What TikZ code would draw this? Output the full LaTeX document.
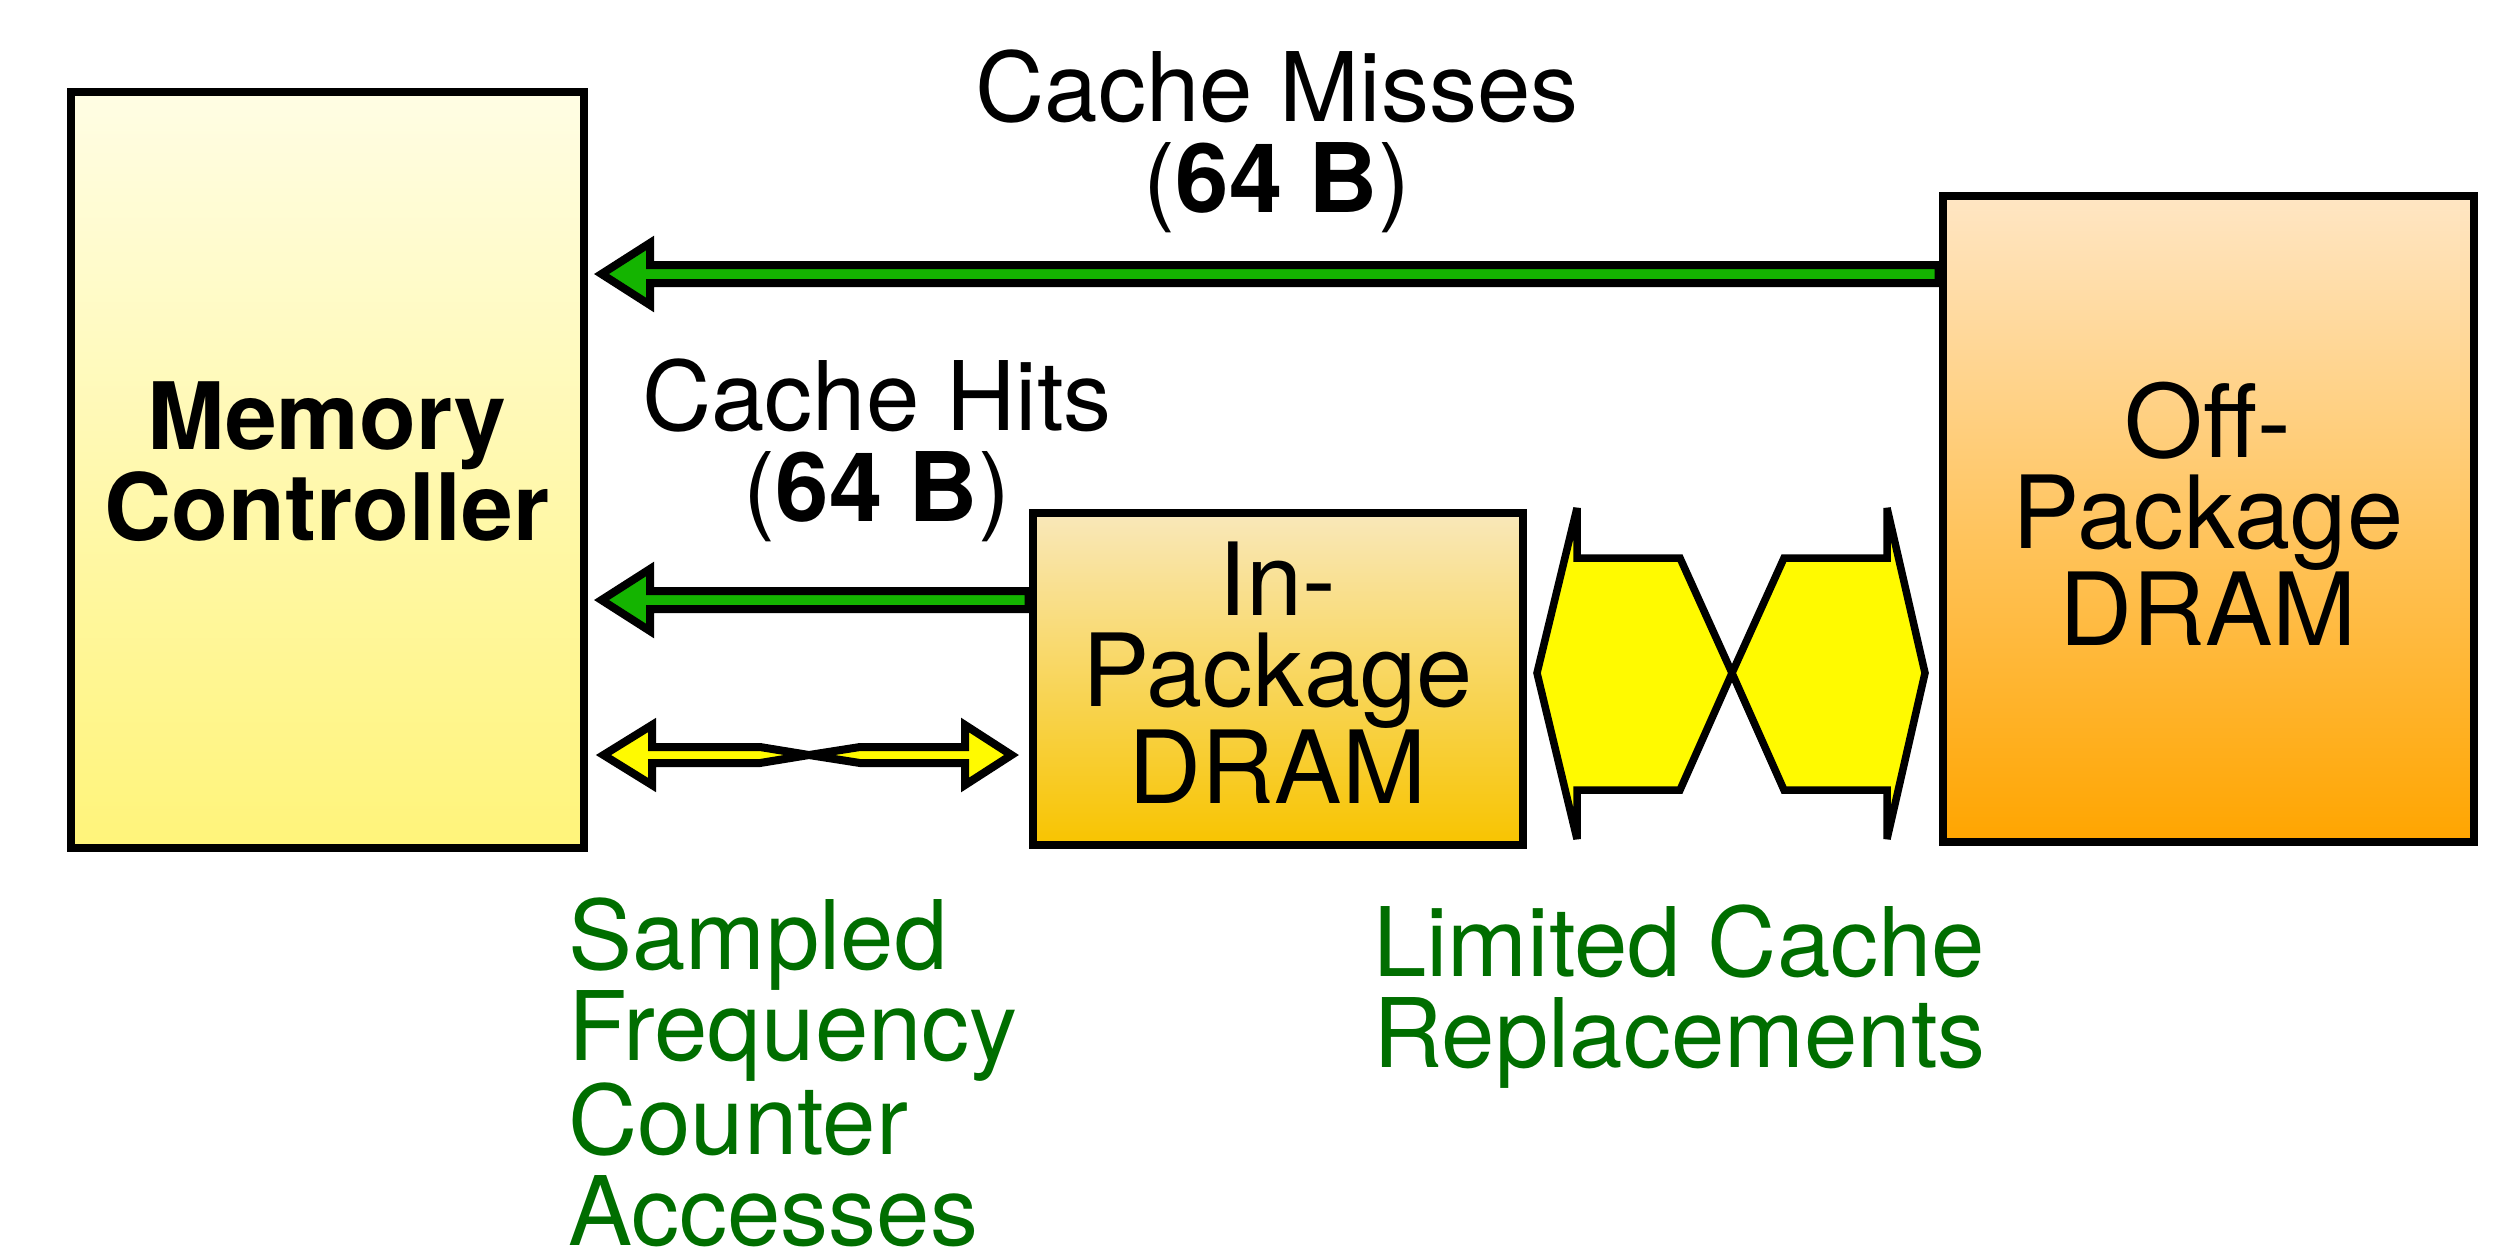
\documentclass[tikz,border=0pt]{standalone}
\usepackage{fontspec}
\setmainfont{TeX Gyre Heros}
\usetikzlibrary{calc}
\definecolor{mctop}{RGB}{255,253,228}
\definecolor{mcbot}{RGB}{255,244,122}
\definecolor{intop}{RGB}{249,232,186}
\definecolor{inbot}{RGB}{248,196,0}
\definecolor{offtop}{RGB}{255,230,196}
\definecolor{offbot}{RGB}{255,165,0}
\definecolor{agreen}{RGB}{20,180,0}
\definecolor{ayellow}{RGB}{255,250,0}
\definecolor{notegreen}{RGB}{0,110,0}
\begin{document}
\begin{tikzpicture}[x=1pt,y=-1pt,
  bigfont/.style={font=\fontsize{96}{91}\selectfont},
  boxfont/.style={font=\fontsize{101}{91}\selectfont},
  box/.style={draw=black, line width=8pt, inner sep=0pt, align=center, boxfont},
  arr/.style={draw=black, line width=8pt, line join=miter},
  lbl/.style={inner sep=0pt, align=center, bigfont},
  note/.style={inner sep=0pt, align=left, text=notegreen, bigfont}]
\useasboundingbox (0,0) rectangle (2508,1254);

% boxes
\node[box, minimum width=513pt, minimum height=756pt, top color=mctop, bottom color=mcbot,
      font=\fontsize{93}{91}\selectfont\bfseries, text depth=16pt] (mc) at (327,469.5) {Memory\\Controller};
\node[box, minimum width=531pt, minimum height=646pt, top color=offtop, bottom color=offbot, text depth=10pt] (off) at (2208,518.5) {Off-\\Package\\DRAM};
\node[box, minimum width=490pt, minimum height=332pt, top color=intop, bottom color=inbot, text depth=12pt] (in) at (1277.5,678.5) {In-\\Package\\DRAM};

% helper rows
\coordinate (missY) at (0,274);
\coordinate (hitY) at (0,600);
\coordinate (dblY) at (0,755);
\coordinate (bowY) at (0,673);

% cache misses arrow
\draw[arr, fill=agreen] ($(off.west|-missY)+(0,-9)$) -- (650,265) -- (650,243)
  -- ($(mc.east|-missY)+(14,0)$) -- (650,305) -- (650,283) -- ($(off.west|-missY)+(0,9)$) -- cycle;

% cache hits arrow
\draw[arr, fill=agreen] ($(in.west|-hitY)+(0,-9)$) -- (650,591) -- (650,569)
  -- ($(mc.east|-hitY)+(14,0)$) -- (650,631) -- (650,609) -- ($(in.west|-hitY)+(0,9)$) -- cycle;

% sampled double arrow
\draw[arr, fill=ayellow] ($(mc.east|-dblY)+(16,0)$) -- (652,725) -- (652,747) -- (760,747)
  -- (809,755) -- (760,763) -- (652,763) -- (652,785) -- cycle;
\draw[arr, fill=ayellow] ($(in.west|-dblY)+(-17,0)$) -- (965,725) -- (965,747) -- (860,747)
  -- (809,755) -- (860,763) -- (965,763) -- (965,785) -- cycle;

% limited replacements bow-tie
\draw[arr, line width=7.5pt, miter limit=4, fill=ayellow] ($(in.east|-bowY)+(10.5,0)$) -- (1577,508) -- (1577,558) -- (1680,558)
  -- (1732,673) -- (1680,790) -- (1577,790) -- (1577,839) -- cycle;
\draw[arr, line width=7.5pt, miter limit=4, fill=ayellow] ($(off.west|-bowY)+(-13.5,0)$) -- (1887,508) -- (1887,558) -- (1784,558)
  -- (1732,673) -- (1784,790) -- (1887,790) -- (1887,839) -- cycle;

% labels
\node[lbl, anchor=north] (misslbl) at (1277,50) {Cache Misses\\(\textbf{64 B})};
\node[lbl, anchor=north] (hitlbl) at (877,359) {Cache Hits\\(\textbf{64 B})};
\node[note, anchor=north west, text depth=0pt] (samplbl) at (568,898) {Sampled\\Frequency\\Counter\\Accesses};
\node[note, anchor=north west] (limlbl) at (1373,905) {Limited Cache\\Replacements};
\end{tikzpicture}
\end{document}
